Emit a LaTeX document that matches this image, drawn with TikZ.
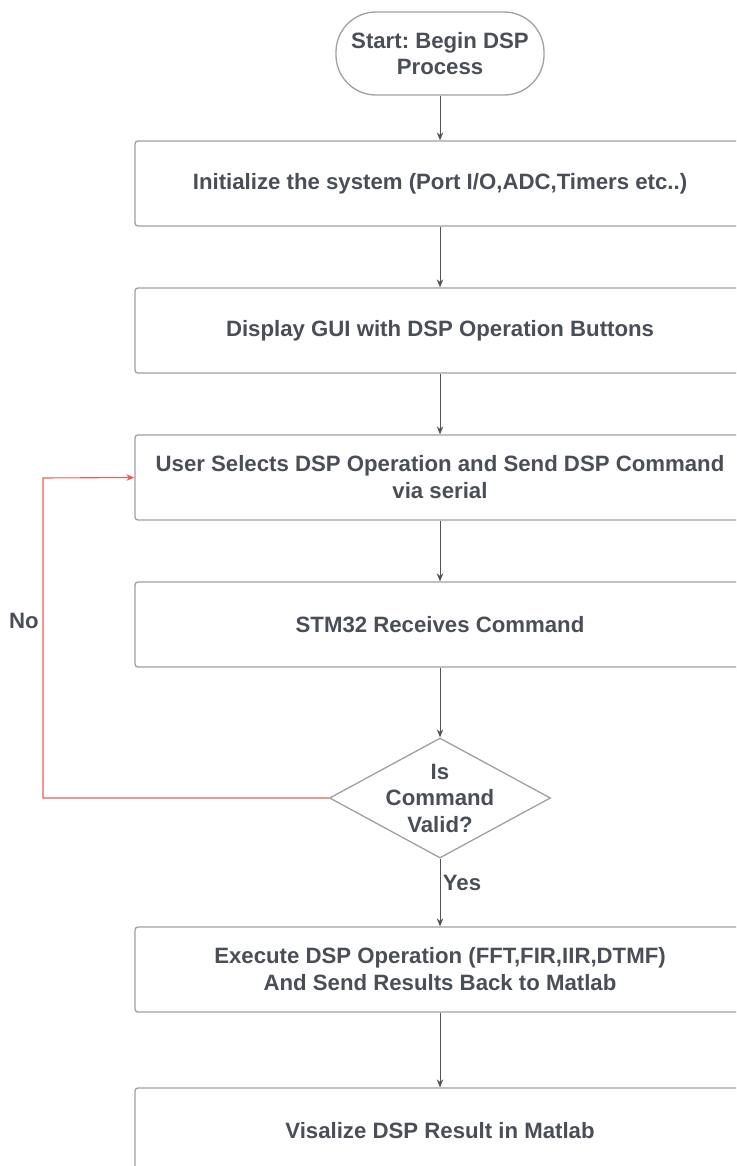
\documentclass[tikz,border=0pt]{standalone}
\usepackage{fontspec}
\setmainfont{Liberation Sans}
\frenchspacing
\usetikzlibrary{shapes.geometric,arrows.meta}
\definecolor{txt}{HTML}{4A4F57}
\definecolor{edge}{HTML}{A0A0A0}
\definecolor{arr}{HTML}{505459}
\definecolor{redl}{HTML}{F05A5A}
\tikzset{
  procbox/.style={draw=edge, line width=1.3pt, rounded corners=3pt, minimum width=610pt, minimum height=85pt, inner sep=0pt, align=center, font=\bfseries\fontsize{22.2}{27}\selectfont, text=txt, fill=white},
  startbox/.style={draw=edge, line width=1.3pt, rounded corners=40pt, minimum width=208pt, minimum height=83pt, inner sep=0pt, align=center, font=\bfseries\fontsize{22.2}{26}\selectfont, text=txt},
  decbox/.style={draw=edge, line width=1.3pt, diamond, aspect=1.85, minimum width=221pt, minimum height=120pt, inner sep=-3.5pt, align=center, font=\bfseries\fontsize{22.2}{26.5}\selectfont, text=txt},
  flow/.style={draw=arr, line width=1pt, -{Stealth[length=8pt,width=6.5pt]}},
  noflow/.style={draw=redl, line width=1.1pt, -{Stealth[length=8pt,width=6.5pt,fill=red]}},
  lbl/.style={font=\bfseries\fontsize{22.2}{24}\selectfont, text=txt}
}
\begin{document}
\begin{tikzpicture}[x=1pt,y=1pt]
\useasboundingbox (0,0) rectangle (736,-1166);
\begin{scope}
\clip (0,0) rectangle (736,-1166);
\node[startbox] (start) at (440,-53.5) {Start: Begin DSP\\Process};
\node[procbox] (init) at (440,-183.5) {Initialize the system (Port I/O,ADC,Timers etc..)};
\node[procbox] (gui) at (440,-330.5) {Display GUI with DSP Operation Buttons};
\node[procbox] (sel) at (440,-477.5) {User Selects DSP Operation and Send DSP Command\\via serial};
\node[procbox] (recv) at (440,-624.5) {STM32 Receives Command};
\node[decbox] (valid) at (440,-798) {Is\\Command\\Valid?};
\node[procbox] (exec) at (440,-969.5) {Execute DSP Operation (FFT,FIR,IIR,DTMF)\\And Send Results Back to Matlab};
\node[procbox] (vis) at (440,-1130.5) {Visalize DSP Result in Matlab};
\coordinate (c1) at (43,-798);
\coordinate (c2) at (43,-478);
\draw[flow] (start) -- (init);
\draw[flow] (init) -- (gui);
\draw[flow] (gui) -- (sel);
\draw[flow] (sel) -- (recv);
\draw[flow] (recv) -- (valid);
\draw[flow] (valid) -- node[lbl, right, pos=0.36, xshift=-1pt] (yes) {Yes} (exec);
\draw[flow] (exec) -- (vis);
\draw[noflow] (valid.west) -- (c1) -- (c2) -- (sel.west);
\node[lbl] (no) at (24,-621) {No};
\end{scope}
\end{tikzpicture}
\end{document}
